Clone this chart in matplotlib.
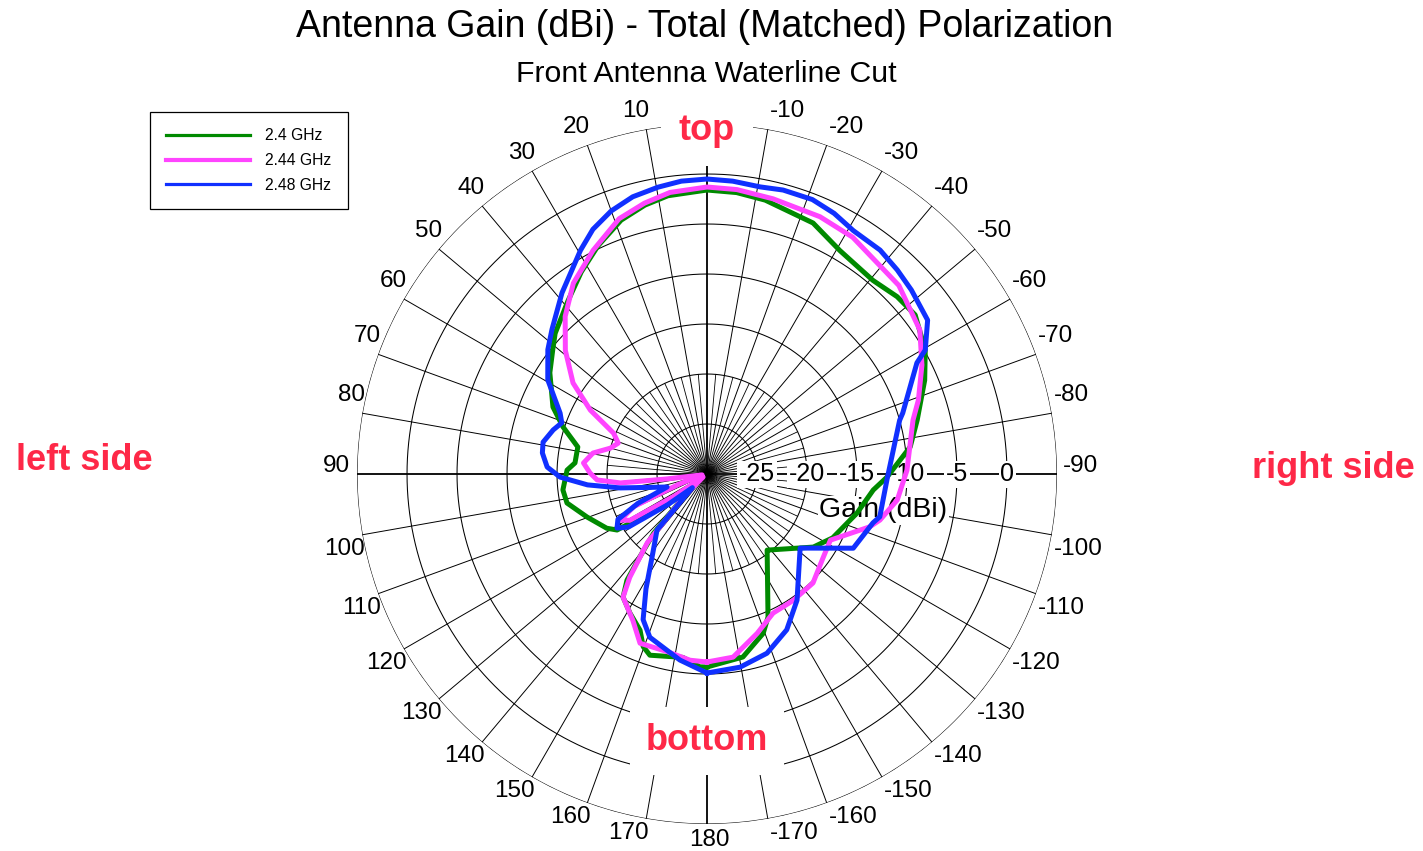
import numpy as np
import matplotlib
matplotlib.use("Agg")
import matplotlib.pyplot as plt
from matplotlib.transforms import offset_copy

plt.rcParams['font.family'] = ['Liberation Sans', 'DejaVu Sans']

# angle in degrees (0 = top, positive = towards left side), gain in dBi
ang_24 = [-180, -168.9, -160.6, -156.9, -141.7, -124.5, -116.9, -104.6, -95.5, -91, -85.9, -82.4,
          -75.6, -66.7, -60.4, -52.6, -47, -40.6, -30.7, -22.9, -12, -6, 0, 8, 13, 18.7, 25.5, 31.9,
          38.8, 47.2, 51.2, 57.2, 66.5, 71.9, 78.2, 85.2, 88.4, 96.3, 101.7, 109.7, 118.4, 121.9,
          124, 127, 136, 138, 141, 143, 145.7, 151, 156.8, 159.7, 162.5, 172.5, 177.9, 180]
gain_24 = [-10.7, -11.35, -13.1, -14.45, -20.3, -17.1, -15.9, -14.5, -13.3, -12.0, -10.65, -9.5,
           -8.3, -6.3, -4.9, -3.8, -4.0, -4.5, -4.0, -2.75, -2.0, -1.7, -1.6, -1.9, -2.4, -3.2, -4.7, -6.2,
           -7.8, -9.3, -10.2, -11.3, -13.2, -14.85, -16.8, -16.75, -16.0, -15.5, -15.7, -17.25, -18.6, -19.4,
           -23.0, -28.0, -25.5, -22.0, -19.3, -16.7, -15.1, -14.1, -13.0, -11.6, -11.0, -11.5, -10.7, -10.7]

ang_244 = [-180, -171.9, -162.5, -154.6, -145.7, -135.8, -125.6, -118.2, -108, -104.9, -97.8, -88.9,
           -75.3, -70.7, -63.1, -55.9, -45.5, -31.6, -23.7, -13.5, -6, 0, 7.5, 13, 19, 27, 35, 42,
           48.9, 55.8, 61.3, 66.4, 70.8, 75, 79.6, 84.9, 89.5, 93.1, 95.9, 97, 100, 110, 114, 118,
           121, 124, 128, 134, 139, 143.2, 145.7, 153.1, 158.4, 167.3, 174.8, 180]
gain_244 = [-11.2, -11.5, -13.3, -14.6, -14.7, -14.8, -15.7, -16.0, -12.9, -12.1, -10.8, -10.0,
            -8.7, -7.6, -5.9, -4.3, -3.1, -2.2, -1.9, -1.7, -1.4, -1.3, -1.6, -2.2, -3.0, -4.9, -6.7, -8.8,
            -11.2, -13.8, -16.7, -19.8, -20.6, -20.0, -18.4, -17.6, -18.3, -19.0, -21.3, -26.0, -29.5, -27.0, -22.0, -20.2,
            -21.0, -26.0, -29.5, -27.0, -20.9, -17.1, -15.1, -13.6, -11.8, -11.8, -11.3, -11.2]

ang_248 = [-180, -170.3, -161.5, -152.9, -144.5, -128.5, -116.9, -106.4, -103.9, -91.9, -74.4, -72.7,
           -62.1, -60.4, -55.1, -48, -43, -37.7, -31, -26, -21, -15, -10.5, -5, 0, 5, 9.7, 15, 20, 25,
           29.5, 38.7, 47, 52, 59.4, 67.5, 70.6, 74, 79, 82.7, 87.5, 91.2, 95.2, 99.1, 104, 108, 113,
           117, 121, 124, 128, 133, 138.2, 145.6, 152, 156.3, 160.7, 171.7, 180]
gain_248 = [-10.1, -10.4, -11.1, -12.5, -14.5, -18.1, -13.6, -12.7, -12.2, -12.0, -10.0, -9.5,
            -6.25, -4.9, -3.1, -2.5, -2.1, -1.7, -1.6, -1.0, -0.6, -0.6, -0.8, -0.6, -0.5, -0.6, -0.9, -1.3, -2.0, -3.0,
            -4.3, -6.8, -8.8, -9.8, -11.5, -14.1, -14.6, -14.0, -13.3, -13.4, -14.0, -15.3, -18.0, -21.2, -24.5, -25.8, -22.5,
            -20.0, -19.5, -20.5, -25.0, -28.0, -22.5, -20.4, -17.0, -14.1, -12.7, -11.2, -10.1]

labels = ['2.4 GHz', '2.44 GHz', '2.48 GHz']
colors = ['#008a00', '#ff44ff', '#1030ff']

r_ticks = [-25, -20, -15, -10, -5, 0]
ang_ticks = [a for a in range(-170, 190, 10) if a != 0]

fig = plt.figure(figsize=(14.23, 8.51), dpi=100)
ax = fig.add_axes([0.2509, 0.0317, 0.4919, 0.8226], projection='polar')
ax.set_theta_zero_location('N')
ax.set_theta_direction(1)
ax.set_ylim(-30, 5)
ax.grid(False)
ax.set_xticks([])
ax.set_yticks([])
ax.spines['polar'].set_visible(False)
ax.patch.set_visible(False)

# grid: rings and spokes
full = np.linspace(0, 2 * np.pi, 721)
for r in r_ticks + [5]:
    ax.plot(full, np.full_like(full, r), color='k', lw=0.75, zorder=1)
for a in range(0, 360, 10):
    lw = 1.3 if a % 90 == 0 else 0.7
    ax.plot([np.deg2rad(a)] * 2, [-30, 5], color='k', lw=lw, zorder=1)
for a in range(5, 360, 10):
    ax.plot([np.deg2rad(a)] * 2, [-30, -20], color='k', lw=0.6, zorder=1)

# curves
for a, g, lab, c in zip([ang_24, ang_244, ang_248], [gain_24, gain_244, gain_248], labels, colors):
    ax.plot(np.deg2rad(a), g, color=c, lw=3.6, label=lab, zorder=4)

# radial labels along the right
for r in r_ticks:
    ax.text(np.deg2rad(-90), r, str(r), ha='center', va='center', fontsize=18, zorder=3,
            bbox=dict(fc='white', ec='none', pad=1))
ax.text(np.deg2rad(-101.6), -12, 'Gain (dBi)', ha='center', va='center', fontsize=20.5, zorder=3,
        bbox=dict(fc='white', ec='none', pad=1))

# angle labels, placed just outside the end of each spoke
for a in ang_ticks:
    if abs(a) == 180:
        ha, dx, dy = 'center', 2, -16
    elif abs(a) == 90:
        ha, dy = ('right', 8) if a > 0 else ('left', 8)
        dx = -7 if a > 0 else 6
    elif a > 0:
        ha, dx = 'right', 3
        dy = 18 if a < 90 else -14
    else:
        ha, dx = 'left', 2
        dy = 18 if a > -90 else -14
    trans = offset_copy(ax.transData, fig=fig, x=dx, y=dy, units='dots')
    ax.text(np.deg2rad(a), 5, str(a), ha=ha, va='center', fontsize=17.5, transform=trans)

# direction labels
red = '#fe2847'
ax.text(0, 4.4, 'top', ha='center', va='center', fontsize=26, fontweight='bold', color=red, zorder=5,
        bbox=dict(boxstyle='square,pad=0.5', fc='white', ec='none'))
ax.text(np.pi, -3.3, 'bottom', ha='center', va='center', fontsize=26, fontweight='bold', color=red, zorder=5,
        bbox=dict(boxstyle='square,pad=0.45', fc='white', ec='none'))
fig.text(84 / 1423, 1 - 460 / 851, 'left side', ha='center', va='center', fontsize=26,
         fontweight='bold', color=red)
fig.text(1333 / 1423, 1 - 468 / 851, 'right side', ha='center', va='center', fontsize=26,
         fontweight='bold', color=red)

fig.text(705 / 1423, 1 - 27 / 851, 'Antenna Gain (dBi) - Total (Matched) Polarization',
         ha='center', va='center', fontsize=27)
fig.text(706 / 1423, 1 - 74 / 851, 'Front Antenna Waterline Cut', ha='center', va='center', fontsize=21.8)

leg = fig.legend(loc='upper left', bbox_to_anchor=(150 / 1423, 1 - 112 / 851), fontsize=11.3,
                 handlelength=5.3, handletextpad=1.0, labelspacing=0.62, borderpad=1.05,
                 borderaxespad=0, fancybox=False, edgecolor='k', framealpha=1)
leg.get_frame().set_linewidth(0.9)
for h, w in zip(leg.get_lines(), [2.3, 3.0, 2.3]):
    h.set_linewidth(w)

fig.savefig('out.png', dpi=100)
